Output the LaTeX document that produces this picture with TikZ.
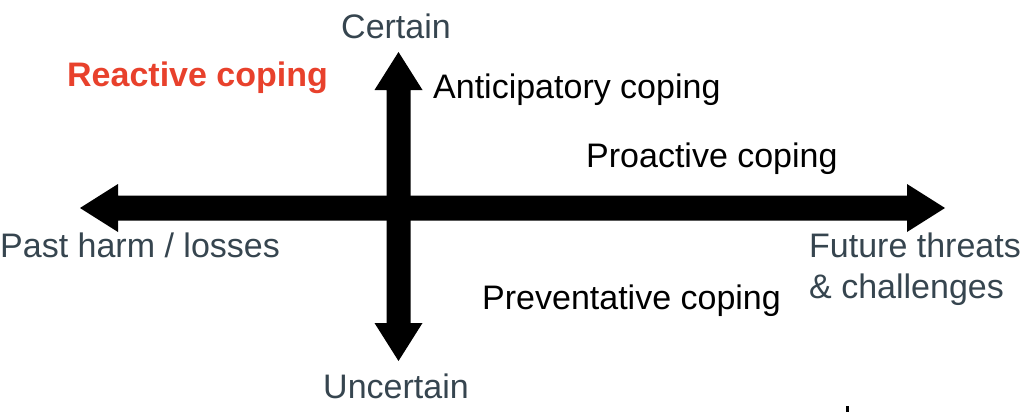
\documentclass[tikz,border=0pt]{standalone}
\usepackage{fontspec}
\setmainfont{Liberation Sans}
\definecolor{slate}{HTML}{36454F}
\definecolor{redlbl}{HTML}{E8412C}
\begin{document}
\begin{tikzpicture}[x=1pt,y=-1pt,
  lbl/.style={inner sep=0pt,anchor=base west,font=\fontsize{34}{40}\selectfont},
  axislbl/.style={lbl,text=slate},
  copelbl/.style={lbl,text=black}]
\useasboundingbox (0,0) rectangle (1024,412);
% horizontal double arrow
\fill[black] (80,208) -- (118,184) -- (118,195.5) -- (907,195.5) -- (907,184) -- (945,208)
  -- (907,232) -- (907,220.5) -- (118,220.5) -- (118,232) -- cycle;
% vertical double arrow
\fill[black] (398.5,52) -- (422.5,90) -- (410.5,90) -- (410.5,323) -- (422.5,323) -- (398.5,361)
  -- (374.5,323) -- (386.5,323) -- (386.5,90) -- (374.5,90) -- cycle;
% small mark
\fill[black] (846,406) rectangle (849,412);
% labels
\node[axislbl,anchor=base] (cert) at (396,38) {Certain};
\node[axislbl,anchor=base] (unc) at (396,398) {Uncertain};
\node[axislbl] (past) at (0,257) {Past harm / losses};
\node[axislbl] (fut1) at (809,257) {Future threats};
\node[axislbl] (fut2) at (809,298) {\& challenges};
\node[lbl,text=redlbl,font=\fontsize{34}{40}\selectfont\bfseries] (react) at (67,86) {Reactive coping};
\node[copelbl] (antic) at (433,98) {Anticipatory coping};
\node[copelbl] (proac) at (586,167) {Proactive coping};
\node[copelbl] (prev) at (482,309) {Preventative coping};
\end{tikzpicture}
\end{document}
